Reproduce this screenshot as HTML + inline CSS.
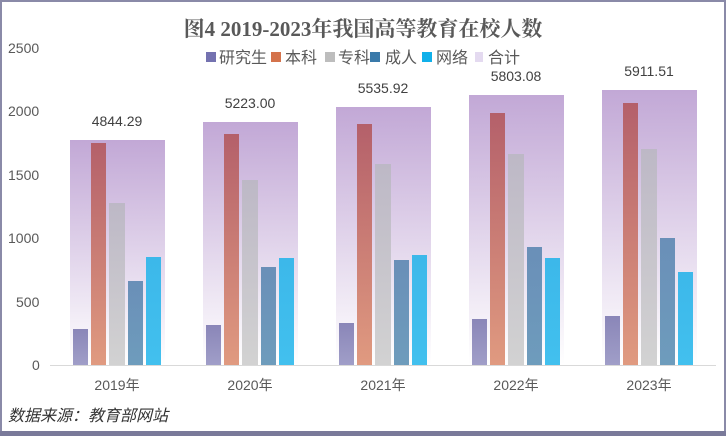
<!DOCTYPE html>
<html><head><meta charset="utf-8"><style>
body{margin:0;background:#fff}
svg{display:block;font-family:"Liberation Sans","Noto Sans CJK SC",sans-serif}
</style></head><body>
<svg width="726" height="436" viewBox="0 0 726 436">
<defs>
<linearGradient id="bg" x1="0" y1="0" x2="0" y2="1"><stop offset="0" stop-color="#c2a8d6"/><stop offset="1" stop-color="#ffffff"/></linearGradient>
<linearGradient id="g1" x1="0" y1="0" x2="0" y2="1"><stop offset="0" stop-color="#8a86b8"/><stop offset="1" stop-color="#a09ec8"/></linearGradient>
<linearGradient id="g2" x1="0" y1="0" x2="0" y2="1"><stop offset="0" stop-color="#b4606a"/><stop offset="1" stop-color="#e09a80"/></linearGradient>
<linearGradient id="g3" x1="0" y1="0" x2="0" y2="1"><stop offset="0" stop-color="#bdb8c6"/><stop offset="1" stop-color="#d2d2d2"/></linearGradient>
<linearGradient id="g4" x1="0" y1="0" x2="0" y2="1"><stop offset="0" stop-color="#6a8fb8"/><stop offset="1" stop-color="#6e9cbc"/></linearGradient>
<linearGradient id="g5" x1="0" y1="0" x2="0" y2="1"><stop offset="0" stop-color="#3cb8ea"/><stop offset="1" stop-color="#42c0ee"/></linearGradient>
</defs>
<rect x="1" y="1" width="724" height="434" fill="#fff" stroke="#8a8aa8" stroke-width="2"/>
<rect x="0" y="431" width="726" height="5" fill="#7a7a9a"/>
<text x="363" y="36" text-anchor="middle" font-size="21" font-family="Liberation Serif,'Noto Serif CJK SC',serif" font-weight="bold" fill="#595959">图4 2019-2023年我国高等教育在校人数</text>
<g font-size="14" fill="#595959">
<text x="8" y="53">2500</text><text x="8" y="116">2000</text><text x="8" y="180">1500</text>
<text x="8" y="243">1000</text><text x="16" y="307">500</text><text x="32" y="370">0</text>
</g>
<g font-size="16" fill="#595959">
<rect x="206" y="52" width="10" height="10" fill="#7472b0"/><text x="219" y="63">研究生</text>
<rect x="271" y="52" width="10" height="10" fill="#d4734c"/><text x="285" y="63">本科</text>
<rect x="325" y="52" width="10" height="10" fill="#bdbdbd"/><text x="338" y="63">专科</text>
<rect x="370" y="52" width="10" height="10" fill="#3a7aaa"/><text x="385" y="63">成人</text>
<rect x="422" y="52" width="10" height="10" fill="#10b0ea"/><text x="436" y="63">网络</text>
<rect x="475" y="52" width="8" height="10" fill="#e4daf0"/><text x="488" y="63">合计</text>
</g>
<g>
<rect x="70" y="140" width="95" height="225" fill="url(#bg)"/>
<rect x="203" y="122" width="95" height="243" fill="url(#bg)"/>
<rect x="336" y="107" width="95" height="258" fill="url(#bg)"/>
<rect x="469" y="95" width="95" height="270" fill="url(#bg)"/>
<rect x="602" y="90" width="95" height="275" fill="url(#bg)"/>
</g>
<g font-size="14" fill="#404040" text-anchor="middle">
<text x="117" y="126">4844.29</text><text x="250" y="108">5223.00</text><text x="383" y="93">5535.92</text>
<text x="516" y="81">5803.08</text><text x="649" y="76">5911.51</text>
</g>
<g>
<rect x="73" y="329" width="15" height="36" fill="url(#g1)"/><rect x="91" y="143" width="15" height="222" fill="url(#g2)"/><rect x="109" y="203" width="16" height="162" fill="url(#g3)"/><rect x="128" y="281" width="15" height="84" fill="url(#g4)"/><rect x="146" y="257" width="15" height="108" fill="url(#g5)"/>
<rect x="206" y="325" width="15" height="40" fill="url(#g1)"/><rect x="224" y="134" width="15" height="231" fill="url(#g2)"/><rect x="242" y="180" width="16" height="185" fill="url(#g3)"/><rect x="261" y="267" width="15" height="98" fill="url(#g4)"/><rect x="279" y="258" width="15" height="107" fill="url(#g5)"/>
<rect x="339" y="323" width="15" height="42" fill="url(#g1)"/><rect x="357" y="124" width="15" height="241" fill="url(#g2)"/><rect x="375" y="164" width="16" height="201" fill="url(#g3)"/><rect x="394" y="260" width="15" height="105" fill="url(#g4)"/><rect x="412" y="255" width="15" height="110" fill="url(#g5)"/>
<rect x="472" y="319" width="15" height="46" fill="url(#g1)"/><rect x="490" y="113" width="15" height="252" fill="url(#g2)"/><rect x="508" y="154" width="16" height="211" fill="url(#g3)"/><rect x="527" y="247" width="15" height="118" fill="url(#g4)"/><rect x="545" y="258" width="15" height="107" fill="url(#g5)"/>
<rect x="605" y="316" width="15" height="49" fill="url(#g1)"/><rect x="623" y="103" width="15" height="262" fill="url(#g2)"/><rect x="641" y="149" width="16" height="216" fill="url(#g3)"/><rect x="660" y="238" width="15" height="127" fill="url(#g4)"/><rect x="678" y="272" width="15" height="93" fill="url(#g5)"/>
</g>
<line x1="50" y1="365.5" x2="716" y2="365.5" stroke="#d9d9d9" stroke-width="1"/>
<g font-size="14" fill="#595959" text-anchor="middle">
<text x="117" y="390">2019年</text><text x="250" y="390">2020年</text><text x="383" y="390">2021年</text><text x="516" y="390">2022年</text><text x="649" y="390">2023年</text>
</g>
<text x="8" y="421" font-size="16" font-style="italic" fill="#333">数据来源：教育部网站</text>
</svg>
</body></html>
